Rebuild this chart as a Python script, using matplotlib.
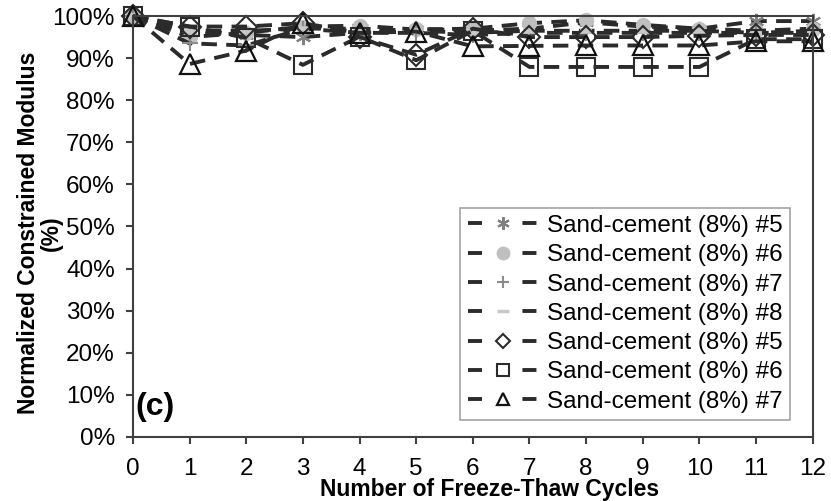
import matplotlib
matplotlib.use('Agg')
import matplotlib.pyplot as plt
from matplotlib.lines import Line2D
from matplotlib.ticker import PercentFormatter

plt.rcParams['font.family'] = ['Liberation Sans', 'DejaVu Sans']

cycles = [0, 1, 2, 3, 4, 5, 6, 7, 8, 9, 10, 11, 12]

# normalized constrained modulus (%)
sc5_a = [100, 96, 95.5, 95, 96, 97, 96.5, 97, 98.5, 97.5, 97, 98.8, 98.8]
sc6_a = [100, 95, 96, 97.5, 97.7, 96.8, 97, 98.3, 99, 97.9, 97, 96.5, 97]
sc7_a = [100, 93.5, 93, 97, 96, 96, 95.5, 96, 96, 96, 96, 96, 96.5]
sc8_a = [100, 96.5, 96.5, 97, 97, 96.5, 96, 96.5, 96.5, 96.5, 96.5, 96, 96]
sc5_b = [100, 97.5, 97.5, 98.3, 95, 90.8, 97, 95, 95, 95, 95.3, 95.5, 95.5]
sc6_b = [100, 97.5, 94.8, 88.4, 95.1, 89.5, 96.5, 87.9, 87.9, 87.9, 87.9, 94.5, 94.5]
sc7_b = [100, 88.6, 91.8, 98.3, 96, 96.3, 92.8, 92.9, 93, 93, 93, 94, 94]

labels = ['Sand-cement (8%) #5', 'Sand-cement (8%) #6', 'Sand-cement (8%) #7',
          'Sand-cement (8%) #8', 'Sand-cement (8%) #5', 'Sand-cement (8%) #6',
          'Sand-cement (8%) #7']

line_col = '#2b2b2b'
# marker, size, face, edge, edge width (plot), legend size
styles = [
    ((6, 2, 0), 11, '#808080', '#808080', 1.5, 9),
    ('o', 10, '#bfbfbf', '#bfbfbf', 1.0, 9),
    ('+', 11, '#8c8c8c', '#8c8c8c', 1.5, 9),
    ('_', 9, '#c8c8c8', '#c8c8c8', 4.0, 9),
    ('D', 11, 'none', line_col, 1.5, 7),
    ('s', 13, 'none', line_col, 1.5, 8),
    ('^', 15, 'none', '#111111', 1.6, 9),
]
series = [sc5_a, sc6_a, sc7_a, sc8_a, sc5_b, sc6_b, sc7_b]

fig = plt.figure(figsize=(8.31, 5.01), dpi=100)
ax = fig.add_axes([0.160, 0.128, 0.818, 0.840])

handles = []
for vals, (mk, ms, fc, ec, mew, lms), lab in zip(series, styles, labels):
    ax.plot(cycles, vals, color=line_col, lw=2.8, dashes=(4, 2.4),
            marker=mk, markersize=ms, markerfacecolor=fc, markeredgecolor=ec,
            markeredgewidth=mew, clip_on=False)
    handles.append(Line2D([], [], color=line_col, lw=2.8, dashes=(3.6, 10.4),
                          marker=mk, markersize=lms, markerfacecolor=fc,
                          markeredgecolor=ec, markeredgewidth=min(mew, 2.5)))

ax.set_xlim(0, 12)
ax.set_ylim(0, 100)
ax.set_xticks(range(0, 13))
ax.set_yticks(range(0, 101, 10))
ax.yaxis.set_major_formatter(PercentFormatter(xmax=100, decimals=0))
for s in ax.spines.values():
    s.set_color('#404040')
    s.set_linewidth(1.5)
ax.tick_params(axis='both', direction='out', length=5, width=1.5,
               color='#404040', labelsize=17.5)
ax.tick_params(axis='x', pad=10)
ax.tick_params(axis='y', pad=8)

ax.set_xlabel('Number of Freeze-Thaw Cycles', fontsize=16.5, fontweight='bold')
ax.xaxis.set_label_coords(0.525, -0.097)
ax.set_ylabel('Normalized Constrained Modulus\n(%)', fontsize=16.5,
              fontweight='bold', linespacing=1.0)
ax.yaxis.set_label_coords(-0.103, 0.485)

ax.text(0.004, 0.035, '(c)', transform=ax.transAxes, fontsize=23,
        fontweight='bold', ha='left', va='bottom')

leg = ax.legend(handles, labels, loc='lower right',
                bbox_to_anchor=(0.966, 0.04), fontsize=17.5, handlelength=2.9,
                handletextpad=0.35, labelspacing=0.3, borderpad=0.3,
                fancybox=False, numpoints=1, borderaxespad=0)
leg.get_frame().set_edgecolor('#8c8c8c')
leg.get_frame().set_linewidth(1.2)

fig.savefig('out.png', dpi=100)
